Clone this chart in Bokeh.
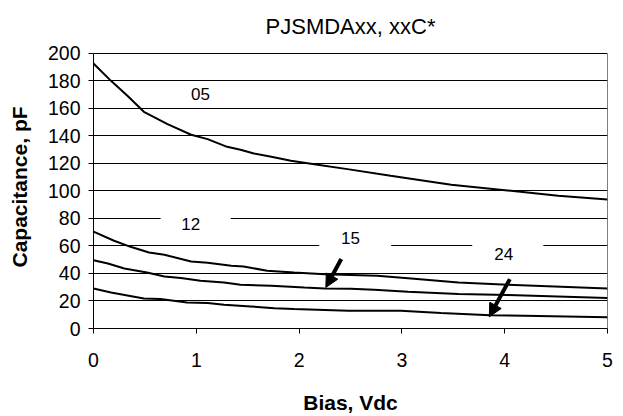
from bokeh.plotting import figure
from bokeh.models import Arrow, NormalHead, Label, FixedTicker
from bokeh.embed import file_html
from bokeh.resources import INLINE

# ---- data ----
x05 = [0, 0.17, 0.33, 0.49, 0.72, 0.95, 1.11, 1.30, 1.43, 1.56, 1.73, 1.92, 2.18, 2.47, 2.89, 3.48, 4.06, 4.52, 5.0]
c05 = [192.7, 180.1, 169.2, 157.6, 148.6, 140.9, 137.7, 132.1, 130.0, 127.3, 124.9, 122.0, 119.0, 115.9, 111.0, 104.5, 100.1, 96.5, 93.8]

x12 = [0, 0.2, 0.36, 0.54, 0.69, 0.95, 1.11, 1.34, 1.46, 1.69, 1.95, 2.25, 2.76, 3.06, 3.55, 4.03, 5.0]
c12 = [70.5, 63.8, 59.4, 55.3, 53.6, 48.7, 47.8, 45.6, 45.1, 42.0, 40.7, 39.5, 38.3, 36.6, 33.5, 31.8, 29.1]

x15 = [0, 0.14, 0.30, 0.52, 0.69, 0.85, 1.04, 1.27, 1.43, 1.73, 2.05, 2.25, 2.5, 2.73, 3.06, 3.55, 4.03, 5.0]
c15 = [49.7, 47.3, 43.6, 40.7, 37.8, 36.7, 34.7, 33.5, 31.8, 31.1, 29.8, 29.1, 28.9, 28.1, 26.7, 25.0, 24.3, 22.1]

x24 = [0, 0.17, 0.49, 0.65, 0.91, 1.11, 1.27, 1.53, 1.76, 1.95, 2.48, 2.99, 3.38, 3.86, 4.19, 5.0]
c24 = [29.1, 26.2, 21.8, 21.4, 18.9, 18.5, 17.2, 16.0, 14.8, 14.1, 12.9, 12.9, 11.2, 9.6, 9.2, 8.2]

series = [(x05, c05), (x12, c12), (x15, c15), (x24, c24)]

x_ticks = [0, 1, 2, 3, 4, 5]
y_ticks = [0, 20, 40, 60, 80, 100, 120, 140, 160, 180, 200]

title_text = "PJSMDAxx, xxC*"

# curve labels (text, x, y)
lab_text = ["05", "12", "15", "24"]
lab_x = [1.04, 0.945, 2.5, 3.99]
lab_y = [170.5, 75.9, 65.8, 54.1]

# white boxes behind labels (gaps in gridlines)
box_left = [0.653, 2.196, 3.684]
box_right = [1.335, 2.896, 4.376]
box_bottom = [68, 56, 50]
box_top = [88, 76, 70]

# arrows (start -> end)
arr_x0 = [2.41, 4.05]
arr_y0 = [50.5, 35.9]
arr_x1 = [2.26, 3.85]
arr_y1 = [29.8, 8.5]

FONT = "Liberation Sans"

x_lo, x_hi = x_ticks[0], x_ticks[-1]
y_lo, y_hi = y_ticks[0], y_ticks[-1]

# a little headroom above the top gridline so the title can sit higher
p = figure(width=615, height=416, x_range=(x_lo, x_hi), y_range=(y_lo, y_hi + 5.8),
           output_backend="svg", toolbar_location=None, title=title_text,
           min_border_left=93, min_border_right=8, min_border_top=45, min_border_bottom=88)

p.title.text_font = FONT
p.title.text_font_size = "22px"
p.title.text_font_style = "normal"
p.title.align = "center"
p.title.offset = -3
p.title.standoff = 14
p.title.text_color = "black"

p.background_fill_color = "white"
p.border_fill_color = "white"
p.outline_line_color = None

p.xgrid.grid_line_color = None
p.ygrid.ticker = FixedTicker(ticks=y_ticks)
p.ygrid.grid_line_color = "black"
p.ygrid.grid_line_width = 1

p.xaxis.ticker = FixedTicker(ticks=x_ticks)
p.yaxis.ticker = FixedTicker(ticks=y_ticks)
p.yaxis.bounds = (y_lo, y_hi)
for ax in (p.xaxis[0], p.yaxis[0]):
    ax.minor_tick_line_color = None
    ax.major_tick_out = 5
    ax.major_tick_in = 0
    ax.axis_line_color = "black"
    ax.major_tick_line_color = "black"
    ax.major_label_text_font = FONT
    ax.major_label_text_font_size = "19.5px"
    ax.major_label_text_color = "black"
    ax.axis_label_text_font = FONT
    ax.axis_label_text_font_size = "21px"
    ax.axis_label_text_font_style = "bold"
    ax.axis_label_text_color = "black"

p.xaxis.axis_label = "Bias, Vdc"
p.yaxis.axis_label = "Capacitance, pF"
p.xaxis.major_label_standoff = 19
p.xaxis.axis_label_standoff = 21
p.yaxis.major_label_standoff = 8
p.yaxis.axis_label_standoff = 14

# right-hand border of the plot area
p.segment(x0=[x_hi], y0=[y_lo], x1=[x_hi], y1=[y_hi], line_color="black", line_width=1)

p.quad(left=box_left, right=box_right, bottom=box_bottom, top=box_top,
       fill_color="white", line_color=None)

for xs, ys in series:
    p.line(xs, ys, line_color="black", line_width=2)

for t, lx, ly in zip(lab_text, lab_x, lab_y):
    p.add_layout(Label(x=lx, y=ly, text=t, text_align="center", text_baseline="middle",
                       text_font=FONT, text_font_size="17px", text_color="black"))

for xa, ya, xb, yb in zip(arr_x0, arr_y0, arr_x1, arr_y1):
    p.add_layout(Arrow(x_start=xa, y_start=ya, x_end=xb, y_end=yb,
                       line_color="black", line_width=4,
                       end=NormalHead(size=13, fill_color="black", line_color="black", line_width=1)))

open("out.html", "w").write(file_html(p, INLINE))
